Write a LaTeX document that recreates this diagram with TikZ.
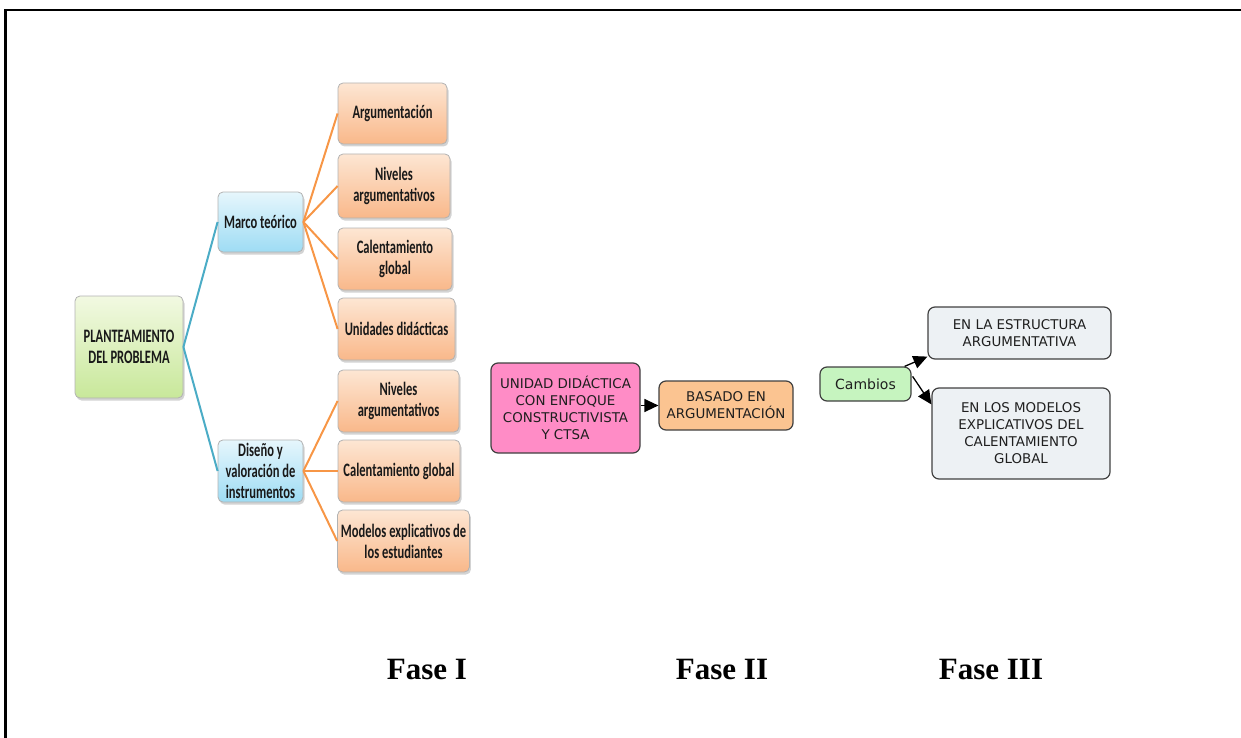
\documentclass[tikz,border=0pt]{standalone}
\usepackage{fontspec}
\setmainfont{Liberation Serif}
\newfontfamily\calf[FakeStretch=0.66]{Carlito}
\newfontfamily\verd{DejaVu Sans}
\usetikzlibrary{shadows,arrows.meta}
\definecolor{orT}{HTML}{FDE6D3}
\definecolor{orB}{HTML}{F9B88A}
\definecolor{blT}{HTML}{E6F6FC}
\definecolor{blB}{HTML}{9EDCF4}
\definecolor{grT}{HTML}{F2F9E2}
\definecolor{grB}{HTML}{C8E89A}
\definecolor{teal}{HTML}{4BACC6}
\definecolor{orln}{HTML}{F79646}
\definecolor{pinkb}{HTML}{FF8CC6}
\definecolor{peach}{HTML}{FBC491}
\definecolor{mint}{HTML}{C6F4BF}
\definecolor{grayb}{HTML}{EDF1F4}
\tikzset{
  base/.style={rounded corners=5pt, draw=black!30, line width=0.8pt, align=center,
     font=\calf\bfseries\fontsize{19}{21}\selectfont, text=black!90,
     drop shadow={shadow xshift=1.5pt, shadow yshift=-2.5pt, opacity=0.35}},
  obox/.style={base, top color=orT, bottom color=orB},
  bbox/.style={base, top color=blT, bottom color=blB},
  gbox/.style={base, top color=grT, bottom color=grB},
  cbox/.style={rounded corners=7pt, draw=black!75, line width=1.2pt, align=center,
     font=\verd\fontsize{13.4}{17}\selectfont, text=black!88},
  tl/.style={teal, line width=2pt},
  ol/.style={orln, line width=2pt},
  arr/.style={black, line width=1.3pt, -{Triangle[length=14pt,width=13pt]}},
  fase/.style={font=\bfseries\fontsize{31}{36}\selectfont}
}
\begin{document}
\begin{tikzpicture}[x=1pt,y=1pt]
\useasboundingbox (0,0) rectangle (1241,-738);
% frame
\draw[line width=2.5pt] (6,-10) -- (1241,-10);
\draw[line width=3pt] (5,-738) -- (5,-9);
% Fase I
\node[gbox, minimum width=108pt, minimum height=102pt] (plan) at (129,-347) {PLANTEAMIENTO\\DEL PROBLEMA};
\node[bbox, minimum width=85pt, minimum height=60pt] (marco) at (260.5,-222) {Marco te\'orico};
\node[bbox, minimum width=85pt, minimum height=62pt] (dis) at (260.5,-471) {Dise\~no y\\valoraci\'on de\\instrumentos};
\node[obox, minimum width=109pt, minimum height=61pt] (a1) at (392.5,-113.5) {Argumentaci\'on};
\node[obox, minimum width=112pt, minimum height=64pt] (a2) at (394,-186) {Niveles\\argumentativos};
\node[obox, minimum width=114pt, minimum height=62pt] (a3) at (395,-259) {Calentamiento\\global};
\node[obox, minimum width=117pt, minimum height=62pt] (a4) at (396.5,-329) {Unidades did\'acticas};
\node[obox, minimum width=121pt, minimum height=62pt] (b1) at (398.5,-401) {Niveles\\argumentativos};
\node[obox, minimum width=122pt, minimum height=62pt] (b2) at (399,-471) {Calentamiento global};
\node[obox, minimum width=125pt, minimum height=62pt] (b3) at (403.5,-541) {Modelos explicativos de\\los estudiantes};
\draw[tl] (plan.east) -- (marco.west);
\draw[tl] (plan.east) -- (dis.west);
\foreach \n in {a1,a2,a3,a4} \draw[ol] (marco.east) -- (\n.west);
\foreach \n in {b1,b2,b3} \draw[ol] (dis.east) -- (\n.west);
% Fase II
\node[cbox, fill=pinkb, minimum width=149pt, minimum height=90pt] (uni) at (565.5,-408) {UNIDAD DID\'ACTICA\\CON ENFOQUE\\CONSTRUCTIVISTA\\Y CTSA};
\node[cbox, fill=peach, minimum width=134pt, minimum height=49pt] (bas) at (726,-405.5) {BASADO EN\\ARGUMENTACI\'ON};
\draw[arr] (uni.east |- bas.west) -- (bas.west);
% Fase III
\node[cbox, fill=mint, minimum width=91pt, minimum height=34pt, font=\verd\fontsize{14}{17}\selectfont] (cam) at (865.5,-384) {Cambios};
\node[cbox, fill=grayb, minimum width=183pt, minimum height=52pt] (est) at (1019.5,-333) {EN LA ESTRUCTURA\\ARGUMENTATIVA};
\node[cbox, fill=grayb, minimum width=178pt, minimum height=91pt] (mod) at (1021,-433.5) {EN LOS MODELOS\\EXPLICATIVOS DEL\\CALENTAMIENTO\\GLOBAL};
\draw[arr] ([xshift=-7pt]cam.north east) -- ([yshift=3pt]est.south west);
\draw[arr] ([xshift=1pt,yshift=-10pt]cam.north east) -- ([yshift=-17pt]mod.north west);
% labels
\node[fase] (f1) at (427,-669) {Fase I};
\node[fase] (f2) at (722,-669) {Fase II};
\node[fase] (f3) at (991,-669) {Fase III};
\end{tikzpicture}
\end{document}
